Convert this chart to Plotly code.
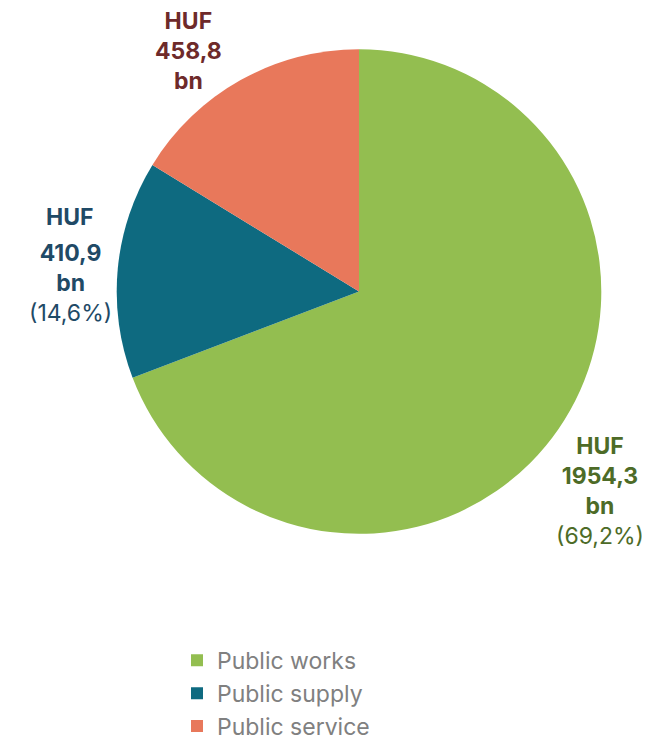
import plotly.graph_objects as go

categories = ["Public works", "Public supply", "Public service"]
values = [1954.3, 410.9, 458.8]
value_labels = ["1954,3", "410,9", "458,8"]
pct_labels = ["(69,2%)", "(14,6%)", ""]
colors = ["#93be50", "#0e6a80", "#e8785b"]
label_colors = ["#4d6b27", "#1f4a66", "#6e2a2a"]

fig = go.Figure(go.Pie(
    labels=categories, values=values, sort=False, direction="clockwise",
    rotation=0, textinfo="none", hoverinfo="label+value+percent",
    marker=dict(colors=colors, line=dict(width=0)),
    domain=dict(x=[0.160, 0.920], y=[0.2757, 0.9432]),
))

font = "Inter, Roboto, Arial, sans-serif"
FS = 23

def add_block(cx, cy, text, color):
    fig.add_annotation(x=cx / 650, y=1 - cy / 740, xref="paper", yref="paper",
                       xanchor="center", yanchor="middle", showarrow=False, align="center",
                       text=text, font=dict(family=font, size=FS, color=color))

# Public works
add_block(592, 492, f"<b>HUF<br>{value_labels[0]}<br>bn</b><br>{pct_labels[0]}", label_colors[0])
# Public supply
add_block(62, 213, "<b>HUF</b>", label_colors[1])
add_block(62, 280, f"<b>{value_labels[1]}<br>bn</b><br>{pct_labels[1]}", label_colors[1])
# Public service
add_block(180, 44, f"<b>HUF<br>{value_labels[2]}<br>bn</b>", label_colors[2])

fig.update_layout(
    width=650, height=740, margin=dict(l=0, r=0, t=0, b=0),
    paper_bgcolor="white", plot_bgcolor="white",
    showlegend=True,
    legend=dict(x=0.26, y=1 - 643/740, xanchor="left", yanchor="top",
                font=dict(family=font, size=23, color="#808080"),
                itemwidth=30, tracegroupgap=0),
)
fig.write_html("out.html")
